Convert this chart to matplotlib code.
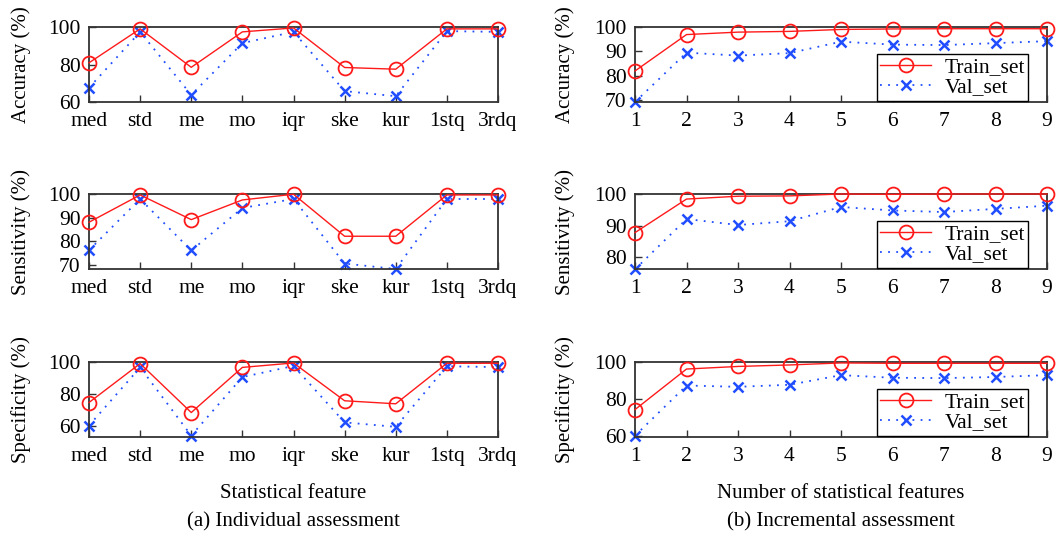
import matplotlib
matplotlib.use("Agg")
import matplotlib.pyplot as plt

plt.rcParams['font.family'] = ['Liberation Serif', 'DejaVu Serif']
plt.rcParams['font.size'] = 15

features = ["med", "std", "me", "mo", "iqr", "ske", "kur", "1stq", "3rdq"]
n_features = [1, 2, 3, 4, 5, 6, 7, 8, 9]

# (a) individual assessment
ind_acc_train = [80.9, 99.0, 78.5, 97.4, 99.5, 78.4, 77.5, 99.0, 99.0]
ind_acc_val = [67.6, 97.4, 63.8, 91.4, 97.4, 65.8, 63.1, 97.8, 97.4]
ind_sen_train = [88.1, 99.6, 89.2, 97.5, 99.9, 82.2, 82.2, 99.6, 99.6]
ind_sen_val = [76.3, 97.9, 76.2, 94.1, 97.9, 70.7, 68.4, 97.9, 97.9]
ind_spe_train = [74.5, 99.0, 68.2, 96.6, 99.4, 75.6, 73.7, 99.2, 99.2]
ind_spe_val = [60.0, 96.6, 53.7, 90.5, 97.5, 62.0, 59.2, 97.3, 96.8]

# (b) incremental assessment
inc_acc_train = [82.0, 96.9, 97.9, 98.2, 99.0, 99.2, 99.3, 99.3, 99.3]
inc_acc_val = [69.3, 89.5, 88.3, 89.3, 94.0, 92.8, 92.6, 93.4, 94.2]
inc_sen_train = [87.8, 98.4, 99.3, 99.4, 100.0, 99.9, 100.0, 100.0, 100.0]
inc_sen_val = [76.2, 92.1, 90.2, 91.4, 95.9, 94.8, 94.3, 95.3, 96.3]
inc_spe_train = [74.3, 96.2, 97.6, 98.4, 99.5, 99.3, 99.3, 99.3, 99.3]
inc_spe_val = [60.2, 87.3, 86.6, 87.7, 92.9, 91.5, 91.3, 91.9, 92.9]

ylabels = ["Accuracy (%)", "Sensitivity (%)", "Specificity (%)"]

red = "#ff1a1a"
blue = "#1f4dff"

fig = plt.figure(figsize=(10.56, 5.4), dpi=100)
W, H = 1056, 540

rows_top = [27, 194, 362]
row_h = 75
left_x = (89, 498)
right_x = (635, 1047)


def make_ax(x0, x1, top):
    return fig.add_axes([x0 / W, 1 - (top + row_h) / H, (x1 - x0) / W, row_h / H])


def style(ax):
    for s in ax.spines.values():
        s.set_color("#333333")
        s.set_linewidth(1.3)
    ax.tick_params(direction="in", length=5, width=1, color="#333333",
                   right=False, top=False, labelsize=15.5)
    ax.tick_params(axis="x", pad=7)
    ax.tick_params(axis="y", pad=6)


def draw(ax, x, tr, va, legend=False):
    ax.plot(x, tr, color=red, lw=1, marker="o", ms=10, mfc="none",
            mec=red, mew=1.3, clip_on=False, zorder=3, label="Train_set")
    ax.plot(x, va, color=blue, lw=1.3, ls=(0, (1, 3.5)), marker="x", ms=7,
            mec=blue, mew=1.8, clip_on=False, zorder=2, label="Val_set")
    if legend:
        leg = ax.legend(loc="lower right", frameon=True, fancybox=False,
                        edgecolor="black", framealpha=1, borderpad=0.15,
                        handlelength=2.4, labelspacing=0.0, handletextpad=0.6,
                        borderaxespad=0, bbox_to_anchor=(0.954, 0.02),
                        fontsize=15.5)
        leg.get_frame().set_linewidth(1.0)


ind_data = [(ind_acc_train, ind_acc_val, (60, 100), [60, 80, 100]),
            (ind_sen_train, ind_sen_val, (68.4, 100), [70, 80, 90, 100]),
            (ind_spe_train, ind_spe_val, (52.8, 100), [60, 80, 100])]
inc_data = [(inc_acc_train, inc_acc_val, (69.3, 100), [70, 80, 90, 100]),
            (inc_sen_train, inc_sen_val, (76.3, 100), [80, 90, 100]),
            (inc_spe_train, inc_spe_val, (59.5, 100), [60, 80, 100])]

for i in range(3):
    ax = make_ax(left_x[0], left_x[1], rows_top[i])
    tr, va, yl, yt = ind_data[i]
    draw(ax, range(len(features)), tr, va)
    ax.set_xlim(0, len(features) - 1)
    ax.set_xticks(range(len(features)))
    ax.set_xticklabels(features)
    ax.set_ylim(*yl)
    ax.set_yticks(yt)
    style(ax)
    ax.set_ylabel(ylabels[i], fontsize=15)
    ax.yaxis.set_label_coords(-58 / (left_x[1] - left_x[0]), 0.5)

    ax = make_ax(right_x[0], right_x[1], rows_top[i])
    tr, va, yl, yt = inc_data[i]
    draw(ax, n_features, tr, va, legend=True)
    ax.set_xlim(1, 9)
    ax.set_xticks(n_features)
    ax.set_ylim(*yl)
    ax.set_yticks(yt)
    style(ax)
    ax.set_ylabel(ylabels[i], fontsize=15)
    ax.yaxis.set_label_coords(-60 / (right_x[1] - right_x[0]), 0.5)

fig.text((left_x[0] + left_x[1]) / 2 / W, 1 - 494 / H, "Statistical feature",
         ha="center", va="center", fontsize=15)
fig.text((right_x[0] + right_x[1]) / 2 / W, 1 - 494 / H, "Number of statistical features",
         ha="center", va="center", fontsize=15)
fig.text((left_x[0] + left_x[1]) / 2 / W, 1 - 522 / H, "(a) Individual assessment",
         ha="center", va="center", fontsize=15)
fig.text((right_x[0] + right_x[1]) / 2 / W, 1 - 522 / H, "(b) Incremental assessment",
         ha="center", va="center", fontsize=15)

fig.savefig("out.png", dpi=100)
